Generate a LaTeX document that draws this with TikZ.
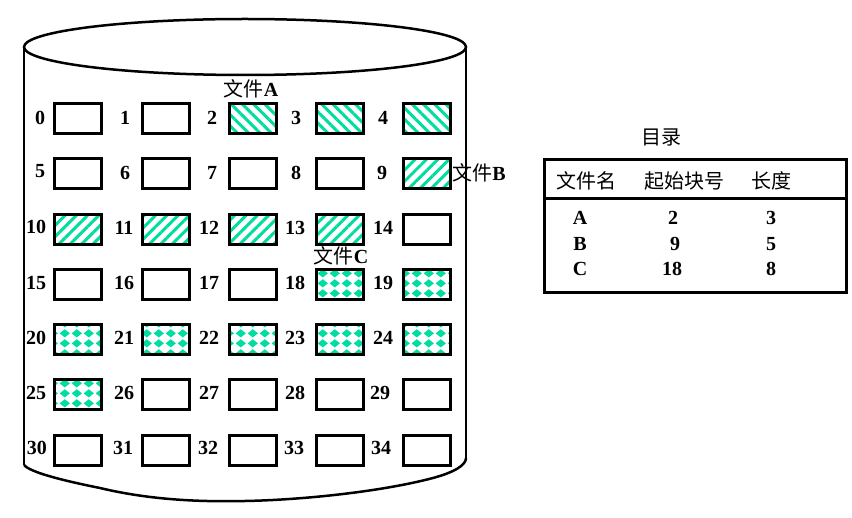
\documentclass[tikz,border=0pt]{standalone}
\usepackage{fontspec}
\setmainfont{Liberation Serif}
\newfontfamily\cjk{Noto Sans CJK SC}
\usetikzlibrary{patterns.meta}
\definecolor{stripe}{HTML}{00DDA0}
\tikzdeclarepattern{name=diamonds, type=uncolored,
  bounding box={(0pt,0pt) and (11.75pt,10pt)}, tile size={(11.75pt,10pt)},
  code={\fill (5.875pt,0.6pt) -- (11.1pt,5pt) -- (5.875pt,9.4pt) -- (0.65pt,5pt) -- cycle;}}
\tikzset{
  blk/.style={draw, line width=3pt, minimum width=47pt, minimum height=30pt, inner sep=0pt, fill=white},
  patA/.style={pattern={Lines[angle=-45,distance=8pt,line width=3pt]}, pattern color=stripe},
  patB/.style={pattern={Lines[angle=45,distance=8pt,line width=3pt]}, pattern color=stripe},
  patC/.style={pattern=diamonds, pattern color=stripe},
  num/.style={font=\fontsize{20}{22}\selectfont\bfseries, inner sep=0pt},
  cjklab/.style={font=\fontsize{20}{22}\selectfont, inner sep=0pt}
}
\begin{document}
\begin{tikzpicture}[x=1pt,y=-1pt]
\useasboundingbox (0,0) rectangle (852,518);
% disk
\draw[line width=2.5pt] (245,47) ellipse [x radius=221, y radius=28];
\coordinate (tl) at (24,47);
\coordinate (bl) at (24,465);
\coordinate (tr) at (466,47);
\coordinate (br) at (466,458);
\draw[line width=2.5pt] (tl) -- (bl);
\draw[line width=2.5pt] (tr) -- (br);
\draw[line width=2.5pt] (bl) .. controls (30,472) and (60,480) .. (100,488)
  .. controls (150,500) and (200,502) .. (245,501)
  .. controls (300,500) and (380,492) .. (433,478)
  .. controls (455,472) and (466,465) .. (br);
% row 0
\node[blk] (b0) at (77.5,119) {};
\node[blk] (b1) at (165.5,119) {};
\node[blk,patA] (b2) at (252.5,119) {};
\node[blk,patA] (b3) at (339.5,119) {};
\node[blk,patA] (b4) at (426.5,119) {};
\node[num] (n0) at (40,118) {0};
\node[num] (n1) at (125,118) {1};
\node[num] (n2) at (212,118) {2};
\node[num] (n3) at (296,118) {3};
\node[num] (n4) at (383,118) {4};
% row 1
\node[blk] (b5) at (77.5,174) {};
\node[blk] (b6) at (165.5,174) {};
\node[blk] (b7) at (252.5,174) {};
\node[blk] (b8) at (339.5,174) {};
\node[blk,patB] (b9) at (426.5,174) {};
\node[num] (n5) at (40,171) {5};
\node[num] (n6) at (125,173) {6};
\node[num] (n7) at (212,173) {7};
\node[num] (n8) at (296,173) {8};
\node[num] (n9) at (382,173) {9};
% row 2
\node[blk,patB] (b10) at (77.5,229.5) {};
\node[blk,patB] (b11) at (165.5,229.5) {};
\node[blk,patB] (b12) at (252.5,229.5) {};
\node[blk,patB] (b13) at (339.5,229.5) {};
\node[blk] (b14) at (426.5,229.5) {};
\node[num] (n10) at (36,227) {10};
\node[num] (n11) at (124,228) {11};
\node[num] (n12) at (209,228) {12};
\node[num] (n13) at (295,228) {13};
\node[num] (n14) at (383,228) {14};
% row 3
\node[blk] (b15) at (77.5,285) {};
\node[blk] (b16) at (165.5,285) {};
\node[blk] (b17) at (252.5,285) {};
\node[blk,patC] (b18) at (339.5,285) {};
\node[blk,patC] (b19) at (426.5,285) {};
\node[num] (n15) at (36,283) {15};
\node[num] (n16) at (124,283) {16};
\node[num] (n17) at (209,283) {17};
\node[num] (n18) at (295,283) {18};
\node[num] (n19) at (383,283) {19};
% row 4
\node[blk,patC] (b20) at (77.5,340) {};
\node[blk,patC] (b21) at (165.5,340) {};
\node[blk,patC] (b22) at (252.5,340) {};
\node[blk,patC] (b23) at (339.5,340) {};
\node[blk,patC] (b24) at (426.5,340) {};
\node[num] (n20) at (36,338) {20};
\node[num] (n21) at (124,338) {21};
\node[num] (n22) at (209,338) {22};
\node[num] (n23) at (295,338) {23};
\node[num] (n24) at (383,338) {24};
% row 5
\node[blk,patC] (b25) at (77.5,395) {};
\node[blk] (b26) at (165.5,395) {};
\node[blk] (b27) at (252.5,395) {};
\node[blk] (b28) at (339.5,395) {};
\node[blk] (b29) at (426.5,395) {};
\node[num] (n25) at (36,393) {25};
\node[num] (n26) at (124,393) {26};
\node[num] (n27) at (209,393) {27};
\node[num] (n28) at (295,393) {28};
\node[num] (n29) at (380,393) {29};
% row 6
\node[blk] (b30) at (77.5,450.5) {};
\node[blk] (b31) at (165.5,450.5) {};
\node[blk] (b32) at (252.5,450.5) {};
\node[blk] (b33) at (339.5,450.5) {};
\node[blk] (b34) at (426.5,450.5) {};
\node[num] (n30) at (37,448) {30};
\node[num] (n31) at (123,448) {31};
\node[num] (n32) at (208,448) {32};
\node[num] (n33) at (294,448) {33};
\node[num] (n34) at (381,448) {34};
% file labels
\node[cjklab] (fa) at (251,89) {{\cjk 文件}\textbf{A}};
\node[cjklab] (fb) at (479,173) {{\cjk 文件}\textbf{B}};
\node[cjklab] (fc) at (341,256) {{\cjk 文件}\textbf{C}};
% directory
\node[cjklab] (dir) at (661,137) {\cjk 目录};
\draw[line width=3pt] (544,160) rectangle (846,293);
\coordinate (hl) at (544,199);
\coordinate (hr) at (846,199);
\draw[line width=3pt] (hl) -- (hr);
\node[cjklab] (h1) at (586,181) {\cjk 文件名};
\node[cjklab] (h2) at (684,181) {\cjk 起始块号};
\node[cjklab] (h3) at (771,181) {\cjk 长度};
\node[num] (ra) at (580,218) {A};
\node[num] (rb) at (580,244) {B};
\node[num] (rc) at (580,269) {C};
\node[num] (sa) at (673,218) {2};
\node[num] (sb) at (675,244) {9};
\node[num] (sc) at (672,269) {18};
\node[num] (la) at (771,218) {3};
\node[num] (lb) at (771,244) {5};
\node[num] (lc) at (771,269) {8};
\end{tikzpicture}
\end{document}
